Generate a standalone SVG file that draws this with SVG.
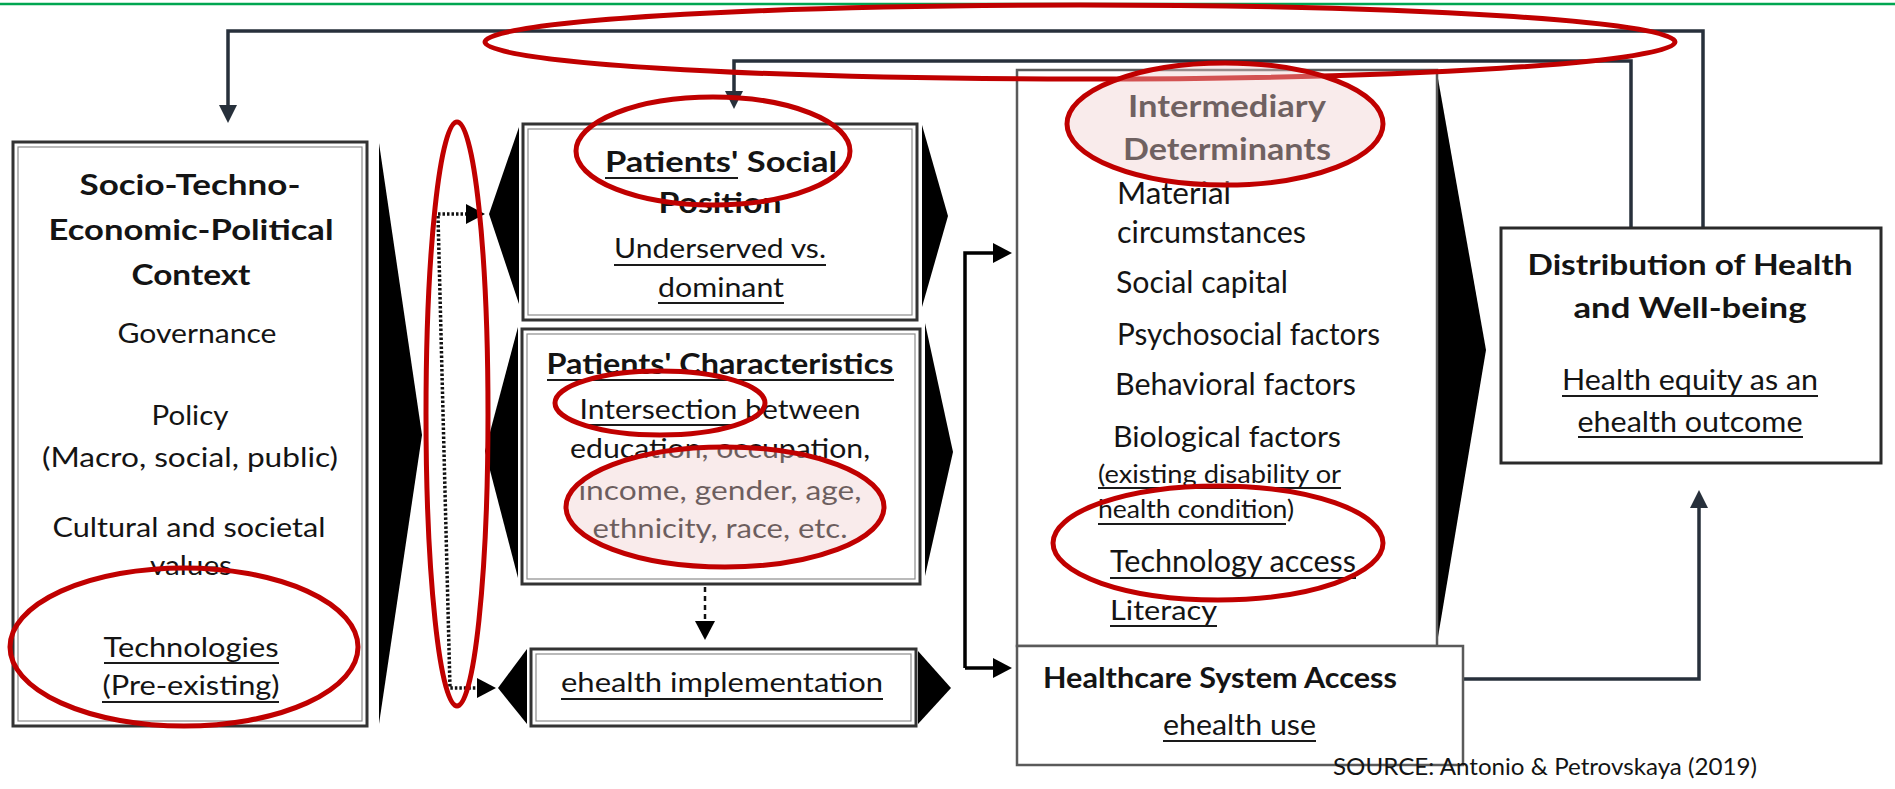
<svg xmlns="http://www.w3.org/2000/svg" width="1895" height="789" viewBox="0 0 1895 789">
<style>
text{font-family:Lato,"Liberation Sans",sans-serif;fill:#141414}
.b{font-weight:700}
.c{text-anchor:middle}
.dbl{fill:#fff;stroke:#333;stroke-width:3}
.din{fill:none;stroke:#8c8c8c;stroke-width:1.2}
.sgl{fill:#fff;stroke:#2a2a2a;stroke-width:3}
.gry{fill:#fff;stroke:#5a5a5a;stroke-width:2.5}
.chev{fill:#000}
.ul{stroke:#1a1a1a;stroke-width:2}
.ln{fill:none;stroke:#000;stroke-width:3.5}
.sl{fill:none;stroke:#27303b;stroke-width:3.5}
.dot{fill:none;stroke:#111;stroke-width:3.5;stroke-dasharray:2.5 2}
.dash{fill:none;stroke:#111;stroke-width:2.5;stroke-dasharray:5 4}
.red{fill:none;stroke:#c00000;stroke-width:5}
.pink{fill:#f0cccc;fill-opacity:0.4;stroke:#c00000;stroke-width:5}
</style>
<defs>
<marker id="arr" markerUnits="userSpaceOnUse" markerWidth="20" markerHeight="20" refX="1" refY="10" orient="auto"><path d="M0,0 L19,10 L0,20 Z" fill="#000"/></marker>
<marker id="arrs" markerUnits="userSpaceOnUse" markerWidth="20" markerHeight="20" refX="1" refY="10" orient="auto"><path d="M0,1 L18,10 L0,19 Z" fill="#27303b"/></marker>
</defs>
<rect width="1895" height="789" fill="#fff"/>
<line x1="0" y1="4" x2="1895" y2="4" stroke="#00a651" stroke-width="2.5"/>

<g id="chevrons">
<polygon class="chev" points="379,143 422,435 379,724"/>
<polygon class="chev" points="519,127 489,214 519,304"/>
<polygon class="chev" points="518,327 485,451 518,578"/>
<polygon class="chev" points="527,649 498,688 527,724"/>
<polygon class="chev" points="922,125 948,216 922,307"/>
<polygon class="chev" points="925,323 953,452 925,576"/>
<polygon class="chev" points="918,651 951,688 918,724"/>
<polygon class="chev" points="1437,73 1486,350 1437,643"/>
</g>

<g id="connectors">
<path class="sl" d="M1703,228 V31 H228 V106" marker-end="url(#arrs)"/>
<path class="sl" d="M1631,228 V61 H734 V92" marker-end="url(#arrs)"/>
<path class="sl" d="M1463,679 H1699 V507" marker-end="url(#arrs)"/>
<path class="dot" d="M438,216 L450,688 H478" marker-end="url(#arr)"/>
<path class="dot" d="M438,214 H467" marker-end="url(#arr)"/>
<path class="dash" d="M705,587 V622" marker-end="url(#arr)"/>
<path class="ln" d="M965,668 V253 H994" marker-end="url(#arr)"/>
<path class="ln" d="M965,668 H994" marker-end="url(#arr)"/>
<path class="ln" d="M1079,214 H1041 V609 H1079" marker-end="url(#arr)"/>
<path class="ln" d="M1041,285 H1079" marker-end="url(#arr)"/>
<path class="ln" d="M1041,340 H1079" marker-end="url(#arr)"/>
<path class="ln" d="M1041,388 H1079" marker-end="url(#arr)"/>
<path class="ln" d="M1041,439 H1079" marker-end="url(#arr)"/>
<path class="ln" d="M1041,562 H1079" marker-end="url(#arr)"/>
<path class="ln" d="M1041,214 H1079" marker-end="url(#arr)"/>
<path class="ln" d="M1041,609 H1079" marker-end="url(#arr)"/>
</g>

<g id="context">
<rect class="dbl" x="13" y="142" width="354" height="584"/>
<rect class="din" x="18" y="147" width="344" height="574"/>
<text class="b c" x="190" y="195" font-size="28" textLength="221" lengthAdjust="spacingAndGlyphs">Socio-Techno-</text>
<text class="b c" x="191" y="240" font-size="28" textLength="285" lengthAdjust="spacingAndGlyphs">Economic-Political</text>
<text class="b c" x="191" y="285" font-size="28" textLength="119" lengthAdjust="spacingAndGlyphs">Context</text>
<text class="c" x="197" y="343" font-size="27" textLength="159" lengthAdjust="spacingAndGlyphs">Governance</text>
<text class="c" x="190" y="425" font-size="27" textLength="77" lengthAdjust="spacingAndGlyphs">Policy</text>
<text class="c" x="190" y="467" font-size="27" textLength="296" lengthAdjust="spacingAndGlyphs">(Macro, social, public)</text>
<text class="c" x="189" y="537" font-size="27" textLength="273" lengthAdjust="spacingAndGlyphs">Cultural and societal</text>
<text class="c" x="191" y="575" font-size="27" textLength="82" lengthAdjust="spacingAndGlyphs">values</text>
<text class="c" x="191" y="657" font-size="27" textLength="175" lengthAdjust="spacingAndGlyphs">Technologies</text>
<line class="ul" x1="104" y1="663" x2="279" y2="663"/>
<text class="c" x="191" y="695" font-size="27" textLength="177" lengthAdjust="spacingAndGlyphs">(Pre-existing)</text>
<line class="ul" x1="102" y1="702" x2="279" y2="702"/>
</g>

<g id="social-position">
<rect class="dbl" x="523" y="124" width="394" height="196"/>
<rect class="din" x="528" y="129" width="384" height="186"/>
<text class="b c" x="721" y="172" font-size="28" textLength="232" lengthAdjust="spacingAndGlyphs">Patients' Social</text>
<line class="ul" x1="605" y1="178" x2="738" y2="178"/>
<text class="b c" x="720" y="213" font-size="28" textLength="123" lengthAdjust="spacingAndGlyphs">Position</text>
<text class="c" x="720" y="258" font-size="27" textLength="212" lengthAdjust="spacingAndGlyphs">Underserved vs.</text>
<line class="ul" x1="614" y1="265" x2="826" y2="265"/>
<text class="c" x="721" y="297" font-size="27" textLength="126" lengthAdjust="spacingAndGlyphs">dominant</text>
<line class="ul" x1="658" y1="303" x2="784" y2="303"/>
</g>

<g id="characteristics">
<rect class="dbl" x="522" y="329" width="398" height="255"/>
<rect class="din" x="527" y="334" width="388" height="245"/>
<text class="b c" x="720" y="374" font-size="29" textLength="347" lengthAdjust="spacingAndGlyphs">Patients' Characteristics</text>
<line class="ul" x1="547" y1="380" x2="894" y2="380"/>
<text class="c" x="720" y="419" font-size="27" textLength="281" lengthAdjust="spacingAndGlyphs">Intersection between</text>
<line class="ul" x1="580" y1="425" x2="737" y2="425"/>
<text class="c" x="720" y="458" font-size="27" textLength="300" lengthAdjust="spacingAndGlyphs">education, occupation,</text>
<text class="c" x="720" y="500" font-size="27" textLength="283" lengthAdjust="spacingAndGlyphs">income, gender, age,</text>
<text class="c" x="720" y="538" font-size="27" textLength="255" lengthAdjust="spacingAndGlyphs">ethnicity, race, etc.</text>
</g>

<g id="ehealth-implementation">
<rect class="dbl" x="531" y="649" width="385" height="77"/>
<rect class="din" x="536" y="654" width="375" height="67"/>
<text class="c" x="722" y="692" font-size="27" textLength="322" lengthAdjust="spacingAndGlyphs">ehealth implementation</text>
<line class="ul" x1="561" y1="699" x2="883" y2="699"/>
</g>

<g id="intermediary">
<rect class="gry" x="1017" y="70" width="420" height="576" fill="none"/>
<text class="b c" x="1227" y="117" font-size="30" textLength="198" lengthAdjust="spacingAndGlyphs" style="fill:#1a1a1a">Intermediary</text>
<text class="b c" x="1227" y="160" font-size="30" textLength="208" lengthAdjust="spacingAndGlyphs" style="fill:#1a1a1a">Determinants</text>
<text x="1117" y="204" font-size="30" textLength="114" lengthAdjust="spacingAndGlyphs">Material</text>
<text x="1117" y="243" font-size="30" textLength="189" lengthAdjust="spacingAndGlyphs">circumstances</text>
<text x="1116" y="293" font-size="30" textLength="172" lengthAdjust="spacingAndGlyphs">Social capital</text>
<text x="1117" y="345" font-size="30" textLength="263" lengthAdjust="spacingAndGlyphs">Psychosocial factors</text>
<text x="1115" y="395" font-size="30" textLength="241" lengthAdjust="spacingAndGlyphs">Behavioral factors</text>
<text x="1113" y="447" font-size="28" textLength="228" lengthAdjust="spacingAndGlyphs">Biological factors</text>
<text x="1098" y="483" font-size="25" textLength="243" lengthAdjust="spacingAndGlyphs">(existing disability  or</text>
<line class="ul" x1="1098" y1="488" x2="1341" y2="488"/>
<text x="1098" y="518" font-size="25" textLength="196" lengthAdjust="spacingAndGlyphs">health condition)</text>
<line class="ul" x1="1098" y1="524" x2="1286" y2="524"/>
<text x="1110" y="572" font-size="30" textLength="246" lengthAdjust="spacingAndGlyphs">Technology access</text>
<line class="ul" x1="1110" y1="578" x2="1356" y2="578"/>
<text x="1110" y="620" font-size="27" textLength="107" lengthAdjust="spacingAndGlyphs">Literacy</text>
<line class="ul" x1="1110" y1="626" x2="1217" y2="626"/>
</g>

<g id="healthcare-access">
<rect class="gry" x="1017" y="646" width="446" height="119"/>
<text class="b" x="1043" y="688" font-size="28" textLength="354" lengthAdjust="spacingAndGlyphs">Healthcare System Access</text>
<text x="1163" y="735" font-size="29" textLength="153" lengthAdjust="spacingAndGlyphs">ehealth use</text>
<line class="ul" x1="1163" y1="741" x2="1316" y2="741"/>
</g>

<g id="distribution">
<rect class="sgl" x="1501" y="228" width="380" height="235"/>
<text class="b c" x="1690" y="275" font-size="29" textLength="325" lengthAdjust="spacingAndGlyphs">Distribution of Health</text>
<text class="b c" x="1690" y="318" font-size="29" textLength="233" lengthAdjust="spacingAndGlyphs">and Well-being</text>
<text class="c" x="1690" y="390" font-size="28" textLength="256" lengthAdjust="spacingAndGlyphs">Health equity as an</text>
<line class="ul" x1="1562" y1="396" x2="1818" y2="396"/>
<text class="c" x="1690" y="432" font-size="28" textLength="225" lengthAdjust="spacingAndGlyphs">ehealth outcome</text>
<line class="ul" x1="1578" y1="437" x2="1803" y2="437"/>
</g>

<g id="source">
<text x="1333" y="775" font-size="23" textLength="424" lengthAdjust="spacingAndGlyphs">SOURCE: Antonio &amp; Petrovskaya (2019)</text>
</g>

<g id="highlights">
<ellipse class="red" cx="1080" cy="42" rx="595" ry="37"/>
<ellipse class="red" cx="713" cy="151" rx="137" ry="54"/>
<ellipse class="red" cx="457" cy="414" rx="31" ry="292"/>
<ellipse class="red" cx="184" cy="647" rx="174" ry="79"/>
<ellipse class="red" cx="660" cy="403" rx="105" ry="32"/>
<ellipse class="pink" cx="725" cy="507" rx="159" ry="60"/>
<ellipse class="pink" cx="1225" cy="124" rx="158" ry="61"/>
<ellipse class="red" cx="1218" cy="543" rx="165" ry="57"/>
</g>
</svg>
